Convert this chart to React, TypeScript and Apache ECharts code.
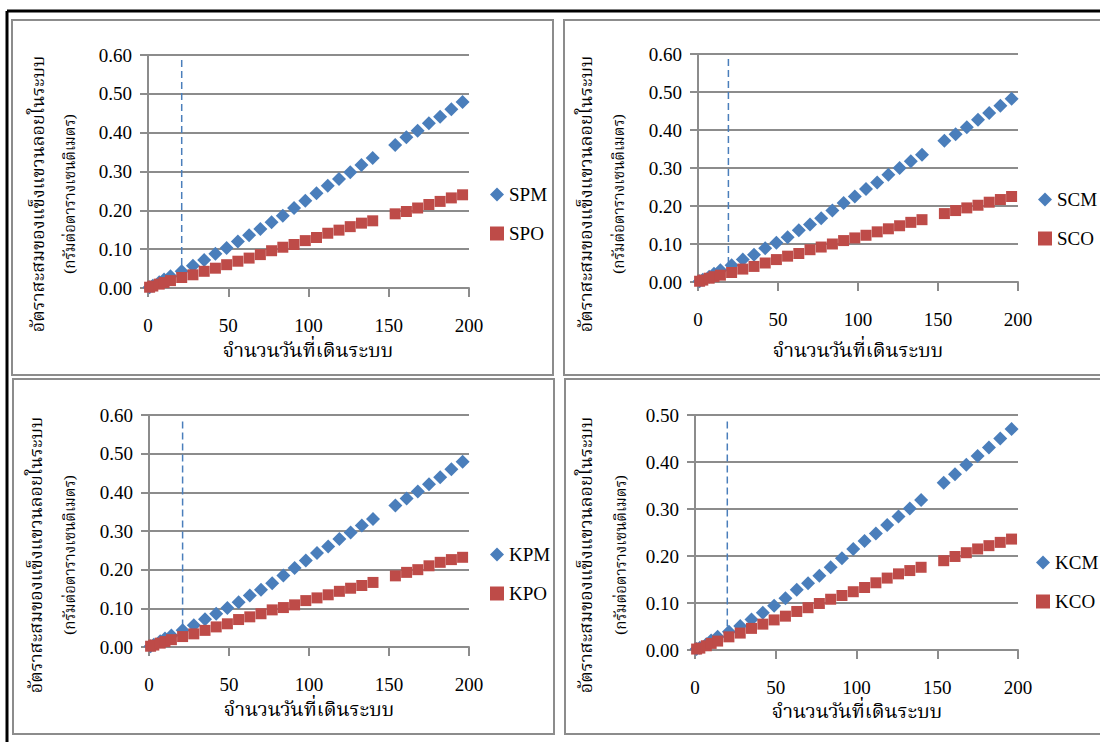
import React, { useEffect, useRef } from "react";
import * as echarts from "echarts";

const days = [1, 3, 7, 10, 14, 21, 28, 35, 42, 49, 56, 63, 70, 77, 84, 91, 98, 105, 112, 119, 126, 133, 140, 154, 161, 168, 175, 182, 189, 196];

const SPM = [0.002, 0.006, 0.015, 0.022, 0.030, 0.043, 0.057, 0.072, 0.088, 0.103, 0.120, 0.136, 0.152, 0.169, 0.186, 0.206, 0.225, 0.244, 0.263, 0.281, 0.298, 0.317, 0.335, 0.368, 0.388, 0.405, 0.424, 0.441, 0.460, 0.479];
const SPO = [0.002, 0.005, 0.010, 0.014, 0.019, 0.027, 0.034, 0.043, 0.051, 0.060, 0.069, 0.077, 0.086, 0.096, 0.105, 0.112, 0.122, 0.130, 0.141, 0.149, 0.158, 0.167, 0.173, 0.191, 0.197, 0.206, 0.215, 0.223, 0.232, 0.240];
const SCM = [0.002, 0.006, 0.014, 0.022, 0.031, 0.044, 0.059, 0.072, 0.089, 0.103, 0.118, 0.136, 0.151, 0.168, 0.188, 0.208, 0.225, 0.245, 0.262, 0.282, 0.300, 0.318, 0.335, 0.372, 0.389, 0.407, 0.427, 0.445, 0.464, 0.482];
const SCO = [0.002, 0.005, 0.010, 0.014, 0.018, 0.025, 0.034, 0.041, 0.050, 0.059, 0.068, 0.075, 0.085, 0.092, 0.100, 0.109, 0.116, 0.123, 0.132, 0.140, 0.148, 0.157, 0.164, 0.180, 0.188, 0.195, 0.202, 0.210, 0.217, 0.225];
const KPM = [0.002, 0.006, 0.015, 0.022, 0.030, 0.043, 0.056, 0.072, 0.086, 0.101, 0.116, 0.133, 0.148, 0.165, 0.185, 0.204, 0.224, 0.243, 0.260, 0.279, 0.296, 0.314, 0.331, 0.366, 0.384, 0.402, 0.421, 0.439, 0.460, 0.479];
const KPO = [0.002, 0.005, 0.010, 0.014, 0.019, 0.027, 0.034, 0.043, 0.052, 0.060, 0.071, 0.078, 0.086, 0.096, 0.102, 0.109, 0.120, 0.127, 0.135, 0.144, 0.152, 0.159, 0.167, 0.184, 0.193, 0.200, 0.210, 0.219, 0.226, 0.232];
const KCM = [0.002, 0.005, 0.012, 0.020, 0.028, 0.039, 0.051, 0.065, 0.079, 0.094, 0.110, 0.128, 0.142, 0.158, 0.176, 0.195, 0.215, 0.232, 0.248, 0.266, 0.284, 0.301, 0.319, 0.356, 0.374, 0.394, 0.413, 0.431, 0.450, 0.470];
const KCO = [0.002, 0.004, 0.009, 0.014, 0.019, 0.028, 0.036, 0.046, 0.055, 0.064, 0.072, 0.082, 0.090, 0.099, 0.108, 0.116, 0.124, 0.133, 0.143, 0.153, 0.162, 0.169, 0.176, 0.190, 0.199, 0.207, 0.215, 0.222, 0.229, 0.236];

const seriesNames = [["SPM", "SPO"], ["SCM", "SCO"], ["KPM", "KPO"], ["KCM", "KCO"]];
const seriesValues = [[SPM, SPO], [SCM, SCO], [KPM, KPO], [KCM, KCO]];
const yMaxes = [0.6, 0.6, 0.6, 0.5];
// dashed marker line per panel: [day, top value, bottom value]
const dashLines = [[21, 0.587, 0.027], [19, 0.587, 0.02], [21, 0.583, 0.028], [20, 0.486, 0.025]];

const yTitle1 = "อัตราสะสมของแข็งแขวนลอยในระบบ";
const yTitle2 = "(กรัมต่อตารางเซนติเมตร)";
const xTitle = "จำนวนวันที่เดินระบบ";

// layout (pixels)
const grids = [
  { left: 148, top: 55, width: 321, height: 233 },
  { left: 698, top: 54, width: 320, height: 228 },
  { left: 149, top: 415, width: 320, height: 232 },
  { left: 695, top: 415, width: 323, height: 235 },
];
const panelRects = [
  { x: 12, y: 20, width: 541, height: 355 },
  { x: 564, y: 20, width: 545, height: 355 },
  { x: 13, y: 379, width: 541, height: 355 },
  { x: 565, y: 379, width: 545, height: 355 },
];
const legendPos = [
  { left: 485, top: 180 },
  { left: 1033, top: 185 },
  { left: 485, top: 540 },
  { left: 1031, top: 548 },
];
const yTitlePos = [
  { x1: 39, x2: 71, y: 194 },
  { x1: 587, x2: 620, y: 194 },
  { x1: 37, x2: 71, y: 555 },
  { x1: 587, x2: 622, y: 555 },
];
const xTitlePos = [
  { x: 308, y: 352 },
  { x: 858, y: 352 },
  { x: 309, y: 711 },
  { x: 857, y: 713 },
];

const BLUE = "#4A7EBB";
const RED = "#BE4B48";
const GRAY = "#8c8c8c";
const SERIF = "Liberation Serif";
const THAI = "'Noto Serif Thai', 'Noto Sans Thai Looped', 'Liberation Serif', serif";

export default function App() {
  const ref = useRef<HTMLDivElement>(null);
  useEffect(() => {
    if (!ref.current) return;
    const chart = echarts.init(ref.current, undefined, { renderer: "svg" });
    const series: any[] = [];
    const xAxis: any[] = [];
    const yAxis: any[] = [];
    const legend: any[] = [];
    const graphic: any[] = [];

    graphic.push({ type: "line", shape: { x1: 7, y1: 11, x2: 1100, y2: 11 }, style: { stroke: "#000", lineWidth: 3 } });
    graphic.push({ type: "line", shape: { x1: 7, y1: 11, x2: 7, y2: 742 }, style: { stroke: "#000", lineWidth: 3 } });

    const tickLabel = { fontFamily: SERIF, fontSize: 19, color: "#000", fontWeight: "normal" as const };

    for (let i = 0; i < 4; i++) {
      graphic.push({ type: "rect", shape: panelRects[i], style: { fill: "none", stroke: GRAY, lineWidth: 2 }, z: -1 });
      xAxis.push({
        gridIndex: i, type: "value", min: 0, max: 200, interval: 50,
        axisLine: { show: true, onZero: false, lineStyle: { color: GRAY, width: 2 } },
        axisTick: { show: true, length: 9, lineStyle: { color: GRAY, width: 2 } },
        splitLine: { show: false },
        axisLabel: { ...tickLabel, margin: 28 },
      });
      yAxis.push({
        gridIndex: i, type: "value", min: 0, max: yMaxes[i], interval: 0.1,
        axisLine: { show: true, lineStyle: { color: GRAY, width: 2 } },
        axisTick: { show: true, length: 8, lineStyle: { color: GRAY, width: 2 } },
        splitLine: { show: true, lineStyle: { color: GRAY, width: 2 } },
        axisLabel: { ...tickLabel, margin: 16, formatter: (v: number) => v.toFixed(2) },
      });
      const d = dashLines[i];
      series.push({
        type: "line", xAxisIndex: i, yAxisIndex: i, data: [[d[0], d[1]], [d[0], d[2]]],
        symbol: "none", silent: true, lineStyle: { color: BLUE, width: 1.5, type: [7, 4] }, z: 1,
      });
      const [mName, oName] = seriesNames[i];
      const [mVals, oVals] = seriesValues[i];
      series.push({
        name: mName, type: "scatter", xAxisIndex: i, yAxisIndex: i, symbol: "diamond", symbolSize: 14,
        itemStyle: { color: BLUE, opacity: 1 }, data: days.map((t, k) => [t, mVals[k]]), z: 3,
      });
      series.push({
        name: oName, type: "scatter", xAxisIndex: i, yAxisIndex: i, symbol: "rect", symbolSize: 11,
        itemStyle: { color: RED, opacity: 1 }, data: days.map((t, k) => [t, oVals[k]]), z: 4,
      });
      legend.push({
        data: [mName, oName], orient: "vertical", left: legendPos[i].left, top: legendPos[i].top,
        itemWidth: 14, itemHeight: 14, itemGap: 20, selectedMode: false,
        textStyle: { fontFamily: SERIF, fontSize: 19, color: "#000", lineHeight: 14 },
      });
      const yp = yTitlePos[i];
      graphic.push({
        type: "text", x: yp.x1, y: yp.y, rotation: Math.PI / 2,
        style: { text: yTitle1, fontFamily: THAI, fontSize: 18, fill: "#000", align: "center", verticalAlign: "middle" },
      });
      graphic.push({
        type: "text", x: yp.x2, y: yp.y, rotation: Math.PI / 2,
        style: { text: yTitle2, fontFamily: THAI, fontSize: 15, fill: "#000", align: "center", verticalAlign: "middle" },
      });
      const xp = xTitlePos[i];
      graphic.push({
        type: "text", x: xp.x, y: xp.y,
        style: { text: xTitle, fontFamily: THAI, fontSize: 20, fill: "#000", align: "center", verticalAlign: "middle" },
      });
    }

    chart.setOption({
      animation: false,
      backgroundColor: "#fff",
      textStyle: { fontFamily: SERIF },
      grid: grids.map((g) => ({ ...g, containLabel: false })),
      xAxis, yAxis, legend, series, graphic,
    });
    return () => chart.dispose();
  }, []);
  return <div ref={ref} style={{ position: "absolute", left: 0, top: 0, width: 1100, height: 742 }} />;
}
